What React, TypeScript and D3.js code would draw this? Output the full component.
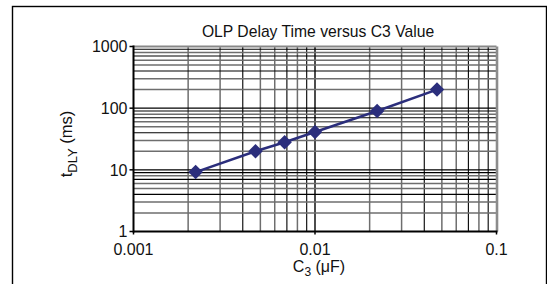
import React from 'react';
import * as d3 from 'd3';

// values
const capacitanceUF = [0.0022, 0.0047, 0.0068, 0.01, 0.022, 0.047];
const delayMs = [9.2, 20, 28, 41, 90, 200];

const xTickValues = [0.001, 0.01, 0.1];
const xTickLabels = ['0.001', '0.01', '0.1'];
const yTickValues = [1, 10, 100, 1000];
const yTickLabels = ['1', '10', '100', '1000'];

const plot = { left: 133.5, right: 496.5, top: 46.5, bottom: 231.5 };
const font = '"Liberation Sans", Arial, Helvetica, sans-serif';
const navy = '#2b2e7c';

// scanned grid has mixed grey / black minor lines
const gridStyle = (v: number) => {
  const m = Math.round(v / Math.pow(10, Math.floor(Math.log10(v) + 1e-9)));
  if (m === 1) return { stroke: '#000', w: 1.4 };
  if (m === 4 || m === 7 || m === 9) return { stroke: '#000', w: 1.1 };
  return { stroke: '#6e6e6e', w: 1.5 };
};

export default function App() {
  const x = d3.scaleLog().domain([0.001, 0.1]).range([plot.left, plot.right]);
  const y = d3.scaleLog().domain([1, 1000]).range([plot.bottom, plot.top]);

  const xGrid = x.ticks().filter(v => v > 0.001 * 1.0001 && v < 0.1 * 0.9999);
  const yGrid = y.ticks().filter(v => v > 1.0001 && v < 999.9);

  const pts: [number, number][] = capacitanceUF.map((c, i) => [x(c), y(delayMs[i])]);
  const line = d3.line();
  const diamond = d3.symbol(d3.symbolSquare, 105)();

  return (
    <svg width={547} height={284} style={{ position: 'absolute', left: 0, top: 0, background: '#fff' }}>
      <rect x={12.5} y={6.5} width={534} height={300} fill="#fff" stroke="#000" strokeWidth={1.4} />

      <text x={318} y={36.5} textAnchor="middle" fontFamily={font} fontSize={15.7} fill="#111">
        OLP Delay Time versus C3 Value
      </text>

      <g className="grid">
        {xGrid.map(v => {
          const s = gridStyle(v);
          return <line key={'x' + v} x1={x(v)} x2={x(v)} y1={plot.top} y2={plot.bottom} stroke={s.stroke} strokeWidth={s.w} />;
        })}
        {yGrid.map(v => {
          const s = gridStyle(v);
          return <line key={'y' + v} x1={plot.left} x2={plot.right} y1={y(v)} y2={y(v)} stroke={s.stroke} strokeWidth={s.w} />;
        })}
      </g>

      {/* frame of the plot */}
      <line x1={plot.left} x2={plot.right} y1={plot.top} y2={plot.top} stroke="#888" strokeWidth={2} />
      <line x1={plot.right + 0.5} x2={plot.right + 0.5} y1={plot.top} y2={plot.bottom} stroke="#8c8c8c" strokeWidth={2.6} />
      <line x1={plot.left} x2={plot.left} y1={plot.top - 1} y2={plot.bottom + 1} stroke="#000" strokeWidth={2} />
      <line x1={plot.left} x2={plot.right + 1} y1={plot.bottom} y2={plot.bottom} stroke="#000" strokeWidth={2} />

      {yTickValues.map((v, i) => (
        <g key={'yt' + v}>
          <line x1={plot.left - 4} x2={plot.left} y1={y(v)} y2={y(v)} stroke="#000" strokeWidth={1.5} />
          <text x={plot.left - 6} y={y(v)} dy="0.36em" textAnchor="end" fontFamily={font} fontSize={16} fill="#111">
            {yTickLabels[i]}
          </text>
        </g>
      ))}
      {xTickValues.map((v, i) => (
        <g key={'xt' + v}>
          <line x1={x(v)} x2={x(v)} y1={plot.bottom} y2={plot.bottom + 3} stroke="#000" strokeWidth={1.5} />
          <text x={x(v)} y={254.5} textAnchor="middle" fontFamily={font} fontSize={16} fill="#111">
            {xTickLabels[i]}
          </text>
        </g>
      ))}

      <text x={319} y={271.5} textAnchor="middle" fontFamily={font} fontSize={16} fill="#111">
        C<tspan fontSize={12} dy={4}>3</tspan>
        <tspan dy={-4}> (μF)</tspan>
      </text>

      <text transform="translate(72,144) rotate(-90)" textAnchor="middle" fontFamily={font} fontSize={16.5} fill="#111">
        t<tspan fontSize={13} dy={5}>DLY</tspan>
        <tspan dy={-5}> (ms)</tspan>
      </text>

      <path d={line(pts) || ''} fill="none" stroke={navy} strokeWidth={2.5} />
      {pts.map(([px, py], i) => (
        <path key={'m' + i} d={diamond || ''} transform={`translate(${px},${py}) rotate(45)`} fill={navy} />
      ))}
    </svg>
  );
}
